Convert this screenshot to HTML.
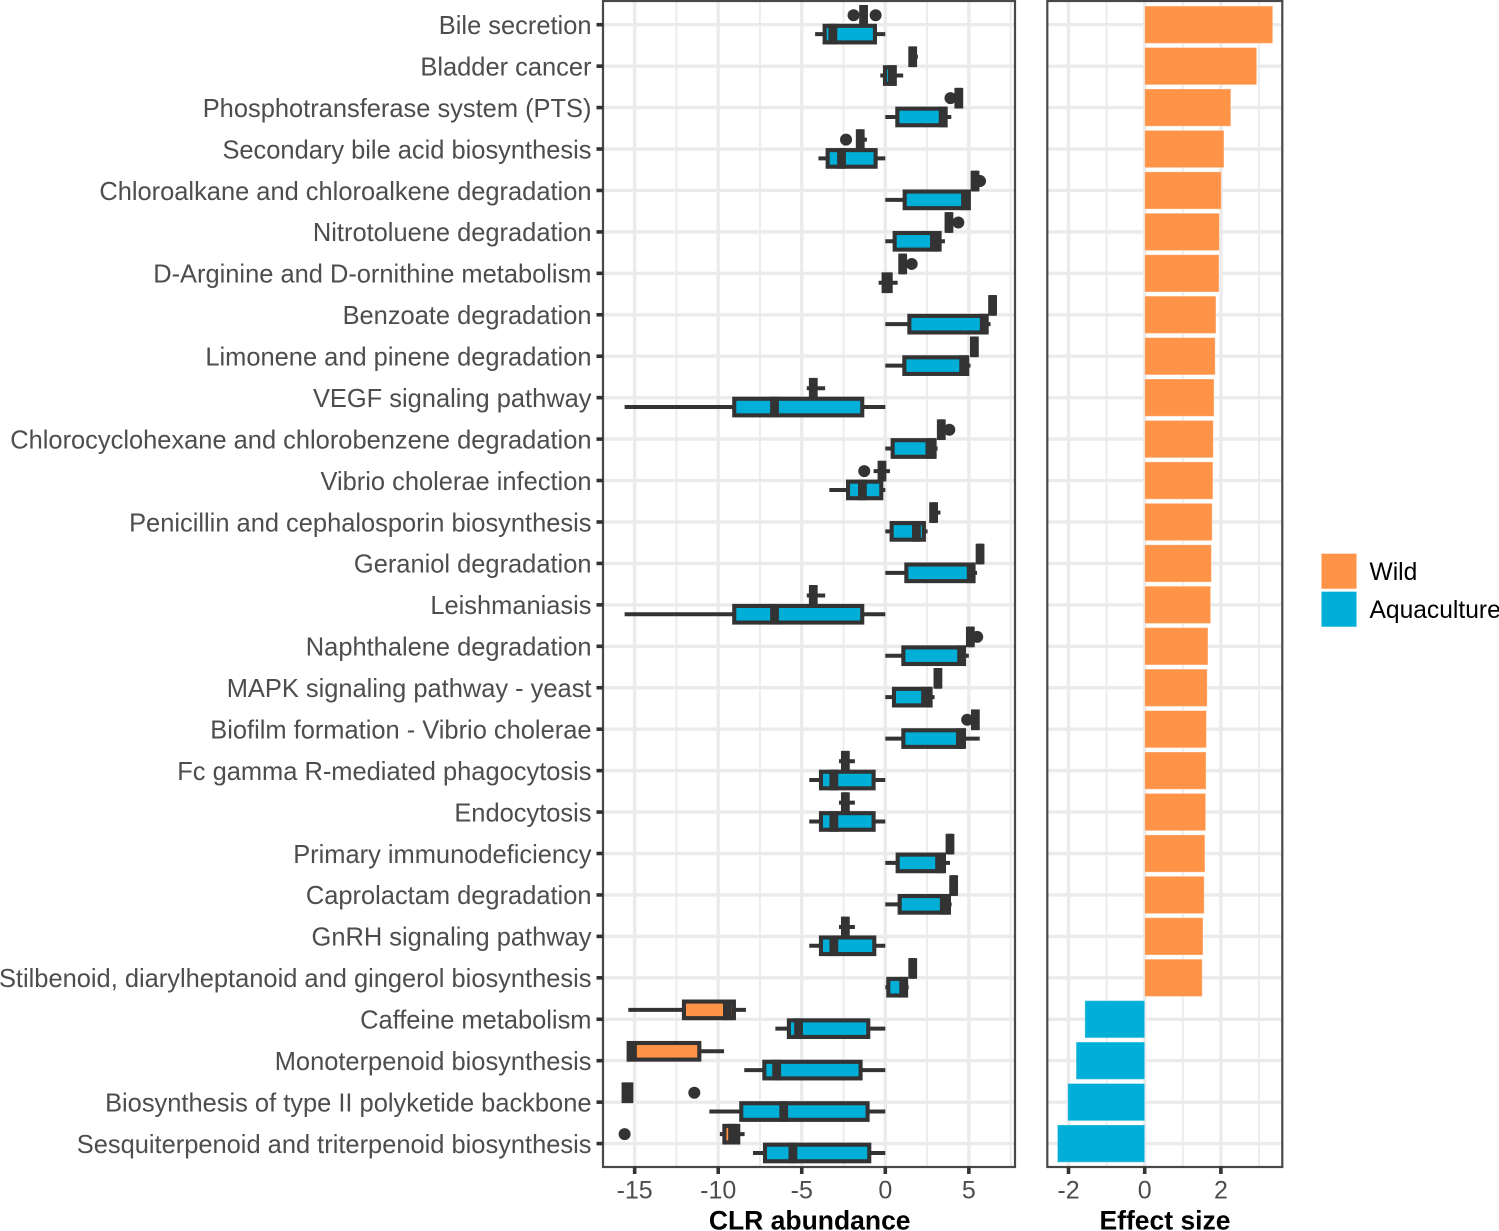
<!DOCTYPE html>
<html>
<head>
<meta charset="utf-8">
<title>CLR abundance and effect size by pathway</title>
<style>
html,body{margin:0;padding:0;background:#fff;}
svg{display:block;font-family:"Liberation Sans",Arial,sans-serif;}
</style>
</head>
<body>
<svg id="chart" xmlns="http://www.w3.org/2000/svg" width="1499" height="1231" viewBox="0 0 1499 1231"></svg>
<script>
const categories = ["Bile secretion","Bladder cancer","Phosphotransferase system (PTS)","Secondary bile acid biosynthesis","Chloroalkane and chloroalkene degradation","Nitrotoluene degradation","D-Arginine and D-ornithine metabolism","Benzoate degradation","Limonene and pinene degradation","VEGF signaling pathway","Chlorocyclohexane and chlorobenzene degradation","Vibrio cholerae infection","Penicillin and cephalosporin biosynthesis","Geraniol degradation","Leishmaniasis","Naphthalene degradation","MAPK signaling pathway - yeast","Biofilm formation - Vibrio cholerae","Fc gamma R-mediated phagocytosis","Endocytosis","Primary immunodeficiency","Caprolactam degradation","GnRH signaling pathway","Stilbenoid, diarylheptanoid and gingerol biosynthesis","Caffeine metabolism","Monoterpenoid biosynthesis","Biosynthesis of type II polyketide backbone","Sesquiterpenoid and triterpenoid biosynthesis"];

const wildLow = [-1.35,1.55,4.3,-1.6,5.3,3.75,0.98,6.38,5.28,-4.7,3.28,-0.7,2.75,5.6,-4.7,5.02,3.1,5.33,-2.77,-2.77,3.82,4.03,-2.77,1.58,-15.38,-15.36,-15.66,-9.9];
const wildQ1 = [-1.35,1.6,4.35,-1.55,5.32,3.78,1.0,6.4,5.3,-4.42,3.3,-0.28,2.85,5.63,-4.42,5.05,3.12,5.36,-2.45,-2.45,3.85,4.06,-2.45,1.61,-12.05,-15.36,-15.66,-9.63];
const wildMedian = [-1.3,1.64,4.4,-1.5,5.37,3.81,1.04,6.42,5.33,-4.31,3.35,-0.2,2.89,5.67,-4.31,5.09,3.15,5.39,-2.39,-2.39,3.87,4.09,-2.39,1.64,-9.45,-15.13,-15.44,-9.14];
const wildQ3 = [-1.25,1.68,4.45,-1.45,5.42,3.85,1.08,6.45,5.37,-4.2,3.4,-0.12,2.93,5.71,-4.2,5.13,3.18,5.42,-2.33,-2.33,3.9,4.12,-2.33,1.67,-9.06,-11.13,-15.2,-8.8];
const wildHigh = [-1.25,1.95,4.5,-1.1,5.45,3.9,1.1,6.47,5.45,-3.6,3.42,0.28,3.3,5.75,-3.6,5.16,3.2,5.45,-1.82,-1.82,3.92,4.15,-1.82,1.7,-8.34,-9.65,-15.2,-8.42];
const wildOutliers = [[-1.9,-0.58],[],[3.9],[-2.35],[5.67],[4.37],[1.58],[],[],[],[3.83],[-1.26],[],[],[],[5.5],[],[4.9],[],[],[],[],[],[],[],[],[-11.43],[-15.6]];

const aquaLow = [-4.2,-0.3,0,-4.0,0,0,-0.4,0,0,-15.6,0,-3.35,0,0,-15.6,0,0,0,-4.55,-4.55,0,0,-4.55,0,-6.58,-8.44,-10.53,-7.92];
const aquaQ1 = [-3.63,-0.02,0.72,-3.45,1.16,0.56,-0.1,1.44,1.14,-9.04,0.44,-2.23,0.38,1.26,-9.04,1.08,0.52,1.08,-3.85,-3.85,0.74,0.86,-3.85,0.18,-5.77,-7.24,-8.62,-7.2];
const aquaMedian = [-3.14,0.42,3.46,-2.62,4.8,2.94,0.1,5.92,4.69,-6.63,2.67,-1.37,1.86,5.14,-6.63,4.57,2.41,4.49,-3.08,-3.08,3.25,3.53,-3.08,1.1,-5.19,-6.5,-6.08,-5.53];
const aquaQ3 = [-0.62,0.56,3.61,-0.58,5.0,3.25,0.32,6.06,4.9,-1.38,2.95,-0.24,2.31,5.27,-1.38,4.71,2.71,4.71,-0.7,-0.7,3.51,3.81,-0.66,1.24,-1.02,-1.48,-1.06,-0.96];
const aquaHigh = [0,1.07,3.95,0,5.05,3.57,0.74,6.3,5.1,0,3.13,0,2.53,5.49,0,5.0,2.95,5.65,0,0,3.87,3.97,0,1.4,0,0,0,0];

const effectSizes = [3.36,2.94,2.26,2.08,2.01,1.96,1.95,1.87,1.85,1.82,1.80,1.79,1.77,1.75,1.73,1.66,1.64,1.62,1.61,1.60,1.58,1.56,1.53,1.51,-1.57,-1.80,-2.02,-2.29];

const clrTicks = [-15,-10,-5,0,5];
const clrMinorTicks = [-12.5,-7.5,-2.5,2.5,7.5];
const effectTicks = [-2,0,2];
const effectMinorTicks = [-1,1,3];
const legendLabels = ["Wild","Aquaculture"];
const xTitles = ["CLR abundance","Effect size"];

const WILD_COLOR = "#ff9347";
const AQUA_COLOR = "#00afd7";
const DARK = "#333333";
const GRID = "#ebebeb";
const TEXT = "#4d4d4d";
const PANEL_TOP = 1;
const PANEL_BOTTOM = 1167;

function xClr(v){ return 885.3 + 16.71 * v; }
function xEffect(v){ return 1144.7 + 38.1 * v; }
function yCat(i){ return 24.7 + 41.44 * i; }

const svg = document.getElementById("chart");
function make(parent, tag, attrs, text){
  const el = document.createElementNS("http://www.w3.org/2000/svg", tag);
  for (const k in attrs) el.setAttribute(k, attrs[k]);
  if (text !== undefined) el.textContent = text;
  parent.appendChild(el);
  return el;
}
function makeGroup(parent){ return make(parent, "g", {}); }

function drawPanel(left, right, xScale, majors, minors, panelName){
  const g = makeGroup(svg);
  
  
  minors.forEach(function(t){
    const l = make(g, "line", {x1:xScale(t), x2:xScale(t), y1:PANEL_TOP, y2:PANEL_BOTTOM, stroke:GRID, "stroke-width":1.8});
    
    
  });
  majors.forEach(function(t){
    const l = make(g, "line", {x1:xScale(t), x2:xScale(t), y1:PANEL_TOP, y2:PANEL_BOTTOM, stroke:GRID, "stroke-width":3.4});
    
    
  });
  categories.forEach(function(c, i){
    const l = make(g, "line", {x1:left, x2:right, y1:yCat(i), y2:yCat(i), stroke:GRID, "stroke-width":3.4});
    
    
  });
}
function drawFrame(left, right, xScale, majors, panelName, title, titleX){
  const g = makeGroup(svg);
  
  
  const frame = make(g, "rect", {x:left, y:PANEL_TOP, width:right-left, height:PANEL_BOTTOM-PANEL_TOP, fill:"none", stroke:"#484848", "stroke-width":2.2});
  
  
  majors.forEach(function(t){
    const tick = make(g, "line", {x1:xScale(t), x2:xScale(t), y1:PANEL_BOTTOM, y2:PANEL_BOTTOM+7, stroke:DARK, "stroke-width":3.6});
    
    
    const label = make(g, "text", {x:xScale(t), y:1198.5, "text-anchor":"middle", "font-size":25, fill:TEXT}, String(t));
    
    
  });
  const t = make(g, "text", {x:titleX, y:1229.5, "text-anchor":"middle", "font-size":26.5, "font-weight":"bold", fill:"#000"}, title);
  
  
}
function drawBox(parent, i, cy, low, q1, med, q3, high, fill, seriesName){
  const g = makeGroup(parent);
  
  
  const whisker = make(g, "line", {x1:xClr(low), x2:xClr(high), y1:cy, y2:cy, stroke:DARK, "stroke-width":4});
  
  
  const box = make(g, "rect", {x:xClr(q1), y:cy-8.3, width:xClr(q3)-xClr(q1), height:16.6, fill:fill, stroke:DARK, "stroke-width":4.1});
  
  
  const median = make(g, "line", {x1:xClr(med), x2:xClr(med), y1:cy-10.3, y2:cy+10.3, stroke:DARK, "stroke-width":8.8});
  
  
}

drawPanel(604, 1014, xClr, clrTicks, clrMinorTicks, 'abundance');
drawPanel(1048, 1281, xEffect, effectTicks, effectMinorTicks, 'effect-size');

const boxes = makeGroup(svg);


categories.forEach(function(c, i){
  const yW = yCat(i) - 9.4;
  const yA = yCat(i) + 9.4;
  wildOutliers[i].forEach(function(v){
    const p = make(boxes, "circle", {cx:xClr(v), cy:yW, r:6, fill:DARK});
    
    
  });
  drawBox(boxes, i, yW, wildLow[i], wildQ1[i], wildMedian[i], wildQ3[i], wildHigh[i], WILD_COLOR, 'wild');
  drawBox(boxes, i, yA, aquaLow[i], aquaQ1[i], aquaMedian[i], aquaQ3[i], aquaHigh[i], AQUA_COLOR, 'aquaculture');
});

const bars = makeGroup(svg);


effectSizes.forEach(function(v, i){
  const x0 = Math.min(xEffect(0), xEffect(v));
  const w = Math.abs(xEffect(v) - xEffect(0));
  const bar = make(bars, "rect", {x:x0, y:yCat(i)-18.65, width:w, height:37.3, fill:v >= 0 ? WILD_COLOR : AQUA_COLOR, stroke:"rgba(255,255,255,0.35)", "stroke-width":1});
  
  
});

drawFrame(603, 1015, xClr, clrTicks, 'abundance', xTitles[0], 809.7);
drawFrame(1047.3, 1282.3, xEffect, effectTicks, 'effect-size', xTitles[1], 1165);

const yAxis = makeGroup(svg);


categories.forEach(function(c, i){
  const tick = make(yAxis, "line", {x1:596.5, x2:603, y1:yCat(i), y2:yCat(i), stroke:DARK, "stroke-width":3.6});
  
  
  const label = make(yAxis, "text", {x:591.5, y:yCat(i)+9.3, "text-anchor":"end", "font-size":25.45, fill:TEXT}, c);
  
  
});

const legend = makeGroup(svg);


legendLabels.forEach(function(name, i){
  const top = 553.5 + 38 * i;
  const key = make(legend, "rect", {x:1321.3, y:top, width:35.4, height:35.4, fill:i === 0 ? WILD_COLOR : AQUA_COLOR, stroke:"rgba(255,255,255,0.35)", "stroke-width":1});
  
  
  const text = make(legend, "text", {x:1369.5, y:top+26.4, "font-size":24.6, fill:"#000"}, name);
  
  
});
</script>
</body>
</html>
